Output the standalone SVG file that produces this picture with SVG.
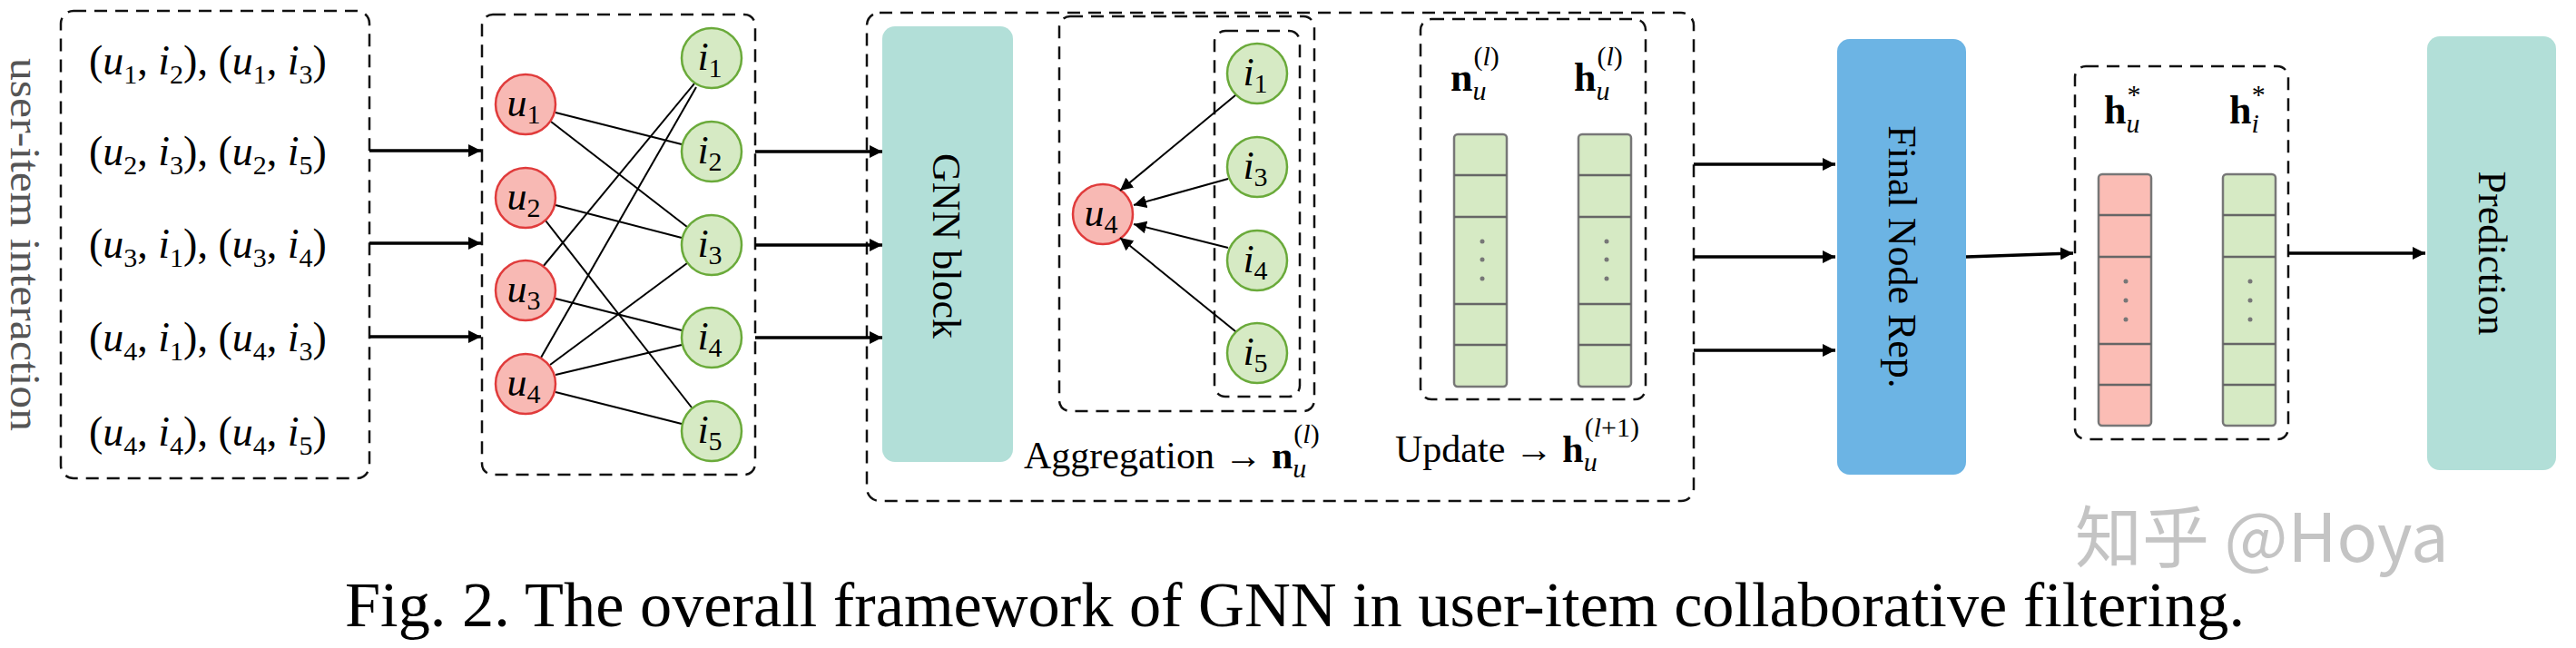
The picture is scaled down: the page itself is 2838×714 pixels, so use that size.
<svg xmlns="http://www.w3.org/2000/svg" width="2838" height="714" viewBox="0 0 2838 714">
<style>
text{font-family:"Liberation Serif","DejaVu Serif",serif;fill:#000}
.m{font-size:46px}
.i{font-style:italic}
.s{font-size:30px}
.dash{fill:none;stroke:#111;stroke-width:2.5;stroke-dasharray:14 9}
.u{fill:#f8b9b4;stroke:#e03b3b;stroke-width:2.5}
.g{fill:#d6eac4;stroke:#6aaa3a;stroke-width:2.5}
.e{stroke:#000;stroke-width:2;fill:none}
.a{stroke:#000;stroke-width:3.5;fill:none;marker-end:url(#ah)}
.a2{stroke:#000;stroke-width:2;fill:none;marker-end:url(#ah2)}
.vg{fill:#d6eac4;stroke:#777;stroke-width:2.5}
.vr{fill:#fbbdb5;stroke:#777;stroke-width:2.5}
.vl{stroke:#666;stroke-width:2.5}
.dot{fill:#777}
.nl{font-size:44px;text-anchor:middle}
</style>
<defs>
<marker id="ah" viewBox="0 0 10 10" refX="10" refY="5" markerWidth="4" markerHeight="4" orient="auto" markerUnits="strokeWidth"><path d="M0,0L10,5L0,10z" fill="#000"/></marker>
<marker id="ah2" viewBox="0 0 10 10" refX="10" refY="5" markerWidth="7" markerHeight="7" orient="auto" markerUnits="strokeWidth"><path d="M0,0L10,5L0,10z" fill="#000"/></marker>
</defs>

<g id="interactions">
<rect class="dash" x="67" y="12" width="340" height="515" rx="14"/>
<text transform="translate(12,64) rotate(90)" textLength="411" lengthAdjust="spacingAndGlyphs" style="font-size:46px;fill:#555">user-item interaction</text>
<g class="m">
<text x="98" y="82">(<tspan class="i">u</tspan><tspan class="s" dy="10">1</tspan><tspan dy="-10">, </tspan><tspan class="i">i</tspan><tspan class="s" dy="10">2</tspan><tspan dy="-10">), (</tspan><tspan class="i">u</tspan><tspan class="s" dy="10">1</tspan><tspan dy="-10">, </tspan><tspan class="i">i</tspan><tspan class="s" dy="10">3</tspan><tspan dy="-10">)</tspan></text>
<text x="98" y="182">(<tspan class="i">u</tspan><tspan class="s" dy="10">2</tspan><tspan dy="-10">, </tspan><tspan class="i">i</tspan><tspan class="s" dy="10">3</tspan><tspan dy="-10">), (</tspan><tspan class="i">u</tspan><tspan class="s" dy="10">2</tspan><tspan dy="-10">, </tspan><tspan class="i">i</tspan><tspan class="s" dy="10">5</tspan><tspan dy="-10">)</tspan></text>
<text x="98" y="284">(<tspan class="i">u</tspan><tspan class="s" dy="10">3</tspan><tspan dy="-10">, </tspan><tspan class="i">i</tspan><tspan class="s" dy="10">1</tspan><tspan dy="-10">), (</tspan><tspan class="i">u</tspan><tspan class="s" dy="10">3</tspan><tspan dy="-10">, </tspan><tspan class="i">i</tspan><tspan class="s" dy="10">4</tspan><tspan dy="-10">)</tspan></text>
<text x="98" y="387">(<tspan class="i">u</tspan><tspan class="s" dy="10">4</tspan><tspan dy="-10">, </tspan><tspan class="i">i</tspan><tspan class="s" dy="10">1</tspan><tspan dy="-10">), (</tspan><tspan class="i">u</tspan><tspan class="s" dy="10">4</tspan><tspan dy="-10">, </tspan><tspan class="i">i</tspan><tspan class="s" dy="10">3</tspan><tspan dy="-10">)</tspan></text>
<text x="98" y="491">(<tspan class="i">u</tspan><tspan class="s" dy="10">4</tspan><tspan dy="-10">, </tspan><tspan class="i">i</tspan><tspan class="s" dy="10">4</tspan><tspan dy="-10">), (</tspan><tspan class="i">u</tspan><tspan class="s" dy="10">4</tspan><tspan dy="-10">, </tspan><tspan class="i">i</tspan><tspan class="s" dy="10">5</tspan><tspan dy="-10">)</tspan></text>
</g>
</g>

<g id="graph">
<rect class="dash" x="531" y="16" width="301" height="507" rx="12"/>
<g class="e">
<line x1="612" y1="124" x2="751" y2="159"/>
<line x1="607" y1="134" x2="757" y2="250"/>
<line x1="612" y1="226" x2="751" y2="262"/>
<line x1="601" y1="243" x2="762" y2="449"/>
<line x1="598" y1="294" x2="765" y2="92"/>
<line x1="612" y1="329" x2="751" y2="364"/>
<line x1="596" y1="394" x2="767" y2="96"/>
<line x1="606" y1="402" x2="757" y2="290"/>
<line x1="612" y1="413" x2="751" y2="380"/>
<line x1="612" y1="432" x2="751" y2="467"/>
</g>
<circle class="u" cx="579" cy="115" r="33"/><circle class="u" cx="579" cy="218" r="33"/><circle class="u" cx="579" cy="320" r="33"/><circle class="u" cx="579" cy="423" r="33"/>
<circle class="g" cx="784" cy="64" r="33"/><circle class="g" cx="784" cy="167" r="33"/><circle class="g" cx="784" cy="270" r="33"/><circle class="g" cx="784" cy="372" r="33"/><circle class="g" cx="784" cy="475" r="33"/>
<g class="nl">
<text x="577" y="128"><tspan class="i">u</tspan><tspan class="s" dy="8">1</tspan></text>
<text x="577" y="231"><tspan class="i">u</tspan><tspan class="s" dy="8">2</tspan></text>
<text x="577" y="333"><tspan class="i">u</tspan><tspan class="s" dy="8">3</tspan></text>
<text x="577" y="436"><tspan class="i">u</tspan><tspan class="s" dy="8">4</tspan></text>
<text x="782" y="77"><tspan class="i">i</tspan><tspan class="s" dy="8">1</tspan></text>
<text x="782" y="180"><tspan class="i">i</tspan><tspan class="s" dy="8">2</tspan></text>
<text x="782" y="283"><tspan class="i">i</tspan><tspan class="s" dy="8">3</tspan></text>
<text x="782" y="385"><tspan class="i">i</tspan><tspan class="s" dy="8">4</tspan></text>
<text x="782" y="488"><tspan class="i">i</tspan><tspan class="s" dy="8">5</tspan></text>
</g>
</g>

<g id="gnn">
<rect class="dash" x="955" y="14" width="911" height="538" rx="14"/>
<rect x="972" y="29" width="144" height="480" rx="14" fill="#b2dfd8"/>
<text transform="translate(1028,271) rotate(90)" text-anchor="middle" style="font-size:44px">GNN block</text>
</g>

<g id="aggregation">
<rect class="dash" x="1167" y="18" width="281" height="435" rx="12"/>
<rect class="dash" x="1338" y="34" width="94" height="403" rx="12"/>
<circle class="g" cx="1385" cy="81" r="33"/><circle class="g" cx="1385" cy="184" r="33"/><circle class="g" cx="1385" cy="287" r="33"/><circle class="g" cx="1385" cy="389" r="33"/>
<circle class="u" cx="1215" cy="236" r="33"/>
<g class="nl">
<text x="1213" y="249"><tspan class="i">u</tspan><tspan class="s" dy="8">4</tspan></text>
<text x="1383" y="94"><tspan class="i">i</tspan><tspan class="s" dy="8">1</tspan></text>
<text x="1383" y="197"><tspan class="i">i</tspan><tspan class="s" dy="8">3</tspan></text>
<text x="1383" y="300"><tspan class="i">i</tspan><tspan class="s" dy="8">4</tspan></text>
<text x="1383" y="402"><tspan class="i">i</tspan><tspan class="s" dy="8">5</tspan></text>
</g>
<text x="1128" y="516" style="font-size:42px">Aggregation → <tspan font-weight="bold">n</tspan><tspan class="s i" dy="10">u</tspan><tspan class="s" dx="-14" dy="-38">(</tspan><tspan class="s i">l</tspan><tspan class="s">)</tspan></text>
</g>

<g id="update">
<rect class="dash" x="1565" y="21" width="248" height="419" rx="12"/>
<text x="1598" y="100" style="font-size:44px"><tspan font-weight="bold">n</tspan><tspan class="s i" dy="10">u</tspan><tspan class="s" dx="-14" dy="-38">(</tspan><tspan class="s i">l</tspan><tspan class="s">)</tspan></text>
<text x="1734" y="100" style="font-size:44px"><tspan font-weight="bold">h</tspan><tspan class="s i" dy="10">u</tspan><tspan class="s" dx="-14" dy="-38">(</tspan><tspan class="s i">l</tspan><tspan class="s">)</tspan></text>
<rect class="vg" x="1602" y="148" width="58" height="278" rx="4"/>
<rect class="vg" x="1739" y="148" width="58" height="278" rx="4"/>
<g class="vl">
<line x1="1602" y1="193" x2="1660" y2="193"/><line x1="1602" y1="239" x2="1660" y2="239"/><line x1="1602" y1="335" x2="1660" y2="335"/><line x1="1602" y1="380" x2="1660" y2="380"/>
<line x1="1739" y1="193" x2="1797" y2="193"/><line x1="1739" y1="239" x2="1797" y2="239"/><line x1="1739" y1="335" x2="1797" y2="335"/><line x1="1739" y1="380" x2="1797" y2="380"/>
</g>
<g class="dot">
<circle cx="1633" cy="266" r="2.5"/><circle cx="1633" cy="286" r="2.5"/><circle cx="1633" cy="307" r="2.5"/>
<circle cx="1770" cy="266" r="2.5"/><circle cx="1770" cy="286" r="2.5"/><circle cx="1770" cy="307" r="2.5"/>
</g>
<text x="1537" y="509" style="font-size:42px">Update → <tspan font-weight="bold">h</tspan><tspan class="s i" dy="10">u</tspan><tspan class="s" dx="-14" dy="-38">(</tspan><tspan class="s i">l</tspan><tspan class="s">+1)</tspan></text>
</g>

<g id="final">
<rect x="2024" y="43" width="142" height="480" rx="14" fill="#6cb4e4"/>
<text transform="translate(2081,283) rotate(90)" text-anchor="middle" style="font-size:44px">Final Node Rep.</text>
</g>

<g id="embeddings">
<rect class="dash" x="2286" y="73" width="235" height="411" rx="12"/>
<text x="2318" y="136" style="font-size:44px"><tspan font-weight="bold">h</tspan><tspan class="s i" dy="10">u</tspan><tspan class="s" dx="-14" dy="-32">*</tspan></text>
<text x="2456" y="136" style="font-size:44px"><tspan font-weight="bold">h</tspan><tspan class="s i" dy="10">i</tspan><tspan class="s" dx="-8" dy="-32">*</tspan></text>
<rect class="vr" x="2312" y="192" width="58" height="277" rx="4"/>
<rect class="vg" x="2449" y="192" width="58" height="277" rx="4"/>
<g class="vl">
<line x1="2312" y1="237" x2="2370" y2="237"/><line x1="2312" y1="283" x2="2370" y2="283"/><line x1="2312" y1="379" x2="2370" y2="379"/><line x1="2312" y1="424" x2="2370" y2="424"/>
<line x1="2449" y1="237" x2="2507" y2="237"/><line x1="2449" y1="283" x2="2507" y2="283"/><line x1="2449" y1="379" x2="2507" y2="379"/><line x1="2449" y1="424" x2="2507" y2="424"/>
</g>
<g class="dot">
<circle cx="2342" cy="310" r="2.5"/><circle cx="2342" cy="331" r="2.5"/><circle cx="2342" cy="352" r="2.5"/>
<circle cx="2479" cy="310" r="2.5"/><circle cx="2479" cy="331" r="2.5"/><circle cx="2479" cy="352" r="2.5"/>
</g>
</g>

<g id="prediction">
<rect x="2674" y="40" width="142" height="478" rx="14" fill="#b2dfd8"/>
<text transform="translate(2731,279) rotate(90)" text-anchor="middle" style="font-size:44px">Prediction</text>
</g>

<g id="connectors">
<line class="a" x1="407" y1="166" x2="530" y2="166"/>
<line class="a" x1="407" y1="268" x2="530" y2="268"/>
<line class="a" x1="407" y1="371" x2="530" y2="371"/>
<line class="a" x1="832" y1="167" x2="972" y2="167"/>
<line class="a" x1="832" y1="270" x2="972" y2="270"/>
<line class="a" x1="832" y1="372" x2="972" y2="372"/>
<line class="a2" x1="1361" y1="105" x2="1234" y2="210"/>
<line class="a2" x1="1353" y1="197" x2="1249" y2="226"/>
<line class="a2" x1="1353" y1="273" x2="1249" y2="247"/>
<line class="a2" x1="1361" y1="365" x2="1234" y2="262"/>
<line class="a" x1="1866" y1="181" x2="2022" y2="181"/>
<line class="a" x1="1866" y1="283" x2="2022" y2="283"/>
<line class="a" x1="1866" y1="386" x2="2022" y2="386"/>
<line class="a" x1="2166" y1="283" x2="2284" y2="279"/>
<line class="a" x1="2521" y1="279" x2="2672" y2="279"/>
</g>

<text x="2286" y="619" style="font-family:'Noto Sans CJK SC','Liberation Sans',sans-serif;font-size:74px;fill:#c4c4c4">知乎 @Hoya</text>
<text x="380" y="690" textLength="2093" lengthAdjust="spacingAndGlyphs" style="font-size:70px">Fig. 2.  The overall framework of GNN in user-item collaborative filtering.</text>
</svg>
